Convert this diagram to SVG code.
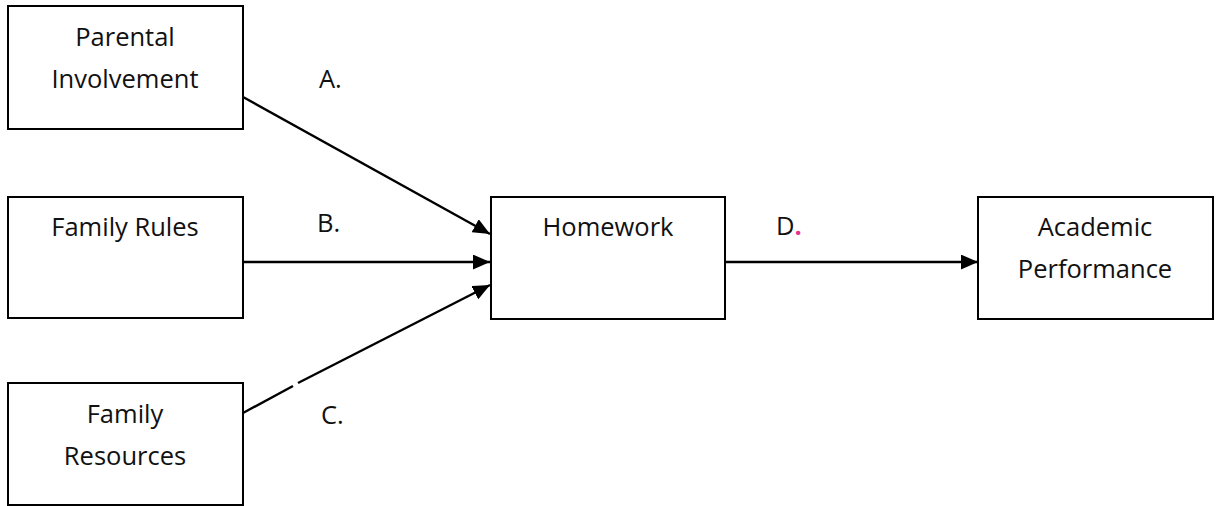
<svg xmlns="http://www.w3.org/2000/svg" width="1219" height="506" viewBox="0 0 1219 506">
  <style>
    .box { fill: #ffffff; stroke: #000000; stroke-width: 2; }
    .lbl { font-family: "Open Sans", "Liberation Sans", sans-serif; font-size: 25.5px; fill: #111111; text-anchor: middle; }
    .tag { font-family: "Open Sans", "Liberation Sans", sans-serif; font-size: 25.5px; fill: #111111; }
    .edge { stroke: #000000; stroke-width: 2.4; fill: none; }
  </style>
  <defs>
    <marker id="head" viewBox="0 0 16 14" refX="16" refY="7" markerWidth="17" markerHeight="15" markerUnits="userSpaceOnUse" orient="auto">
      <path d="M0,0 L16,7 L0,14 Z" fill="#000000"/>
    </marker>
  </defs>

  <g id="connectors">
    <line class="edge" x1="243" y1="97" x2="490" y2="234" marker-end="url(#head)"/>
    <line class="edge" x1="243" y1="262" x2="490" y2="262" marker-end="url(#head)"/>
    <!-- lower link drawn in two pieces with a short break -->
    <line class="edge" x1="243" y1="413" x2="293" y2="386"/>
    <line class="edge" x1="298" y1="383" x2="490" y2="285" marker-end="url(#head)"/>
    <line class="edge" x1="725" y1="262" x2="978" y2="262" marker-end="url(#head)"/>
  </g>

  <g id="node-parental">
    <rect class="box" x="8" y="6" width="235" height="123"/>
    <text class="lbl" x="125" y="46">Parental</text>
    <text class="lbl" x="125" y="88">Involvement</text>
  </g>

  <g id="node-rules">
    <rect class="box" x="8" y="197" width="235" height="121"/>
    <text class="lbl" x="125" y="236">Family Rules</text>
  </g>

  <g id="node-resources">
    <rect class="box" x="8" y="383" width="235" height="122"/>
    <text class="lbl" x="125" y="423">Family</text>
    <text class="lbl" x="125" y="465">Resources</text>
  </g>

  <g id="node-homework">
    <rect class="box" x="491" y="197" width="234" height="122"/>
    <text class="lbl" x="608" y="236">Homework</text>
  </g>

  <g id="node-performance">
    <rect class="box" x="978" y="197" width="235" height="122"/>
    <text class="lbl" x="1095" y="236">Academic</text>
    <text class="lbl" x="1095" y="278">Performance</text>
  </g>

  <g id="path-labels">
    <text class="tag" x="319" y="88">A.</text>
    <text class="tag" x="317" y="232">B.</text>
    <text class="tag" x="321" y="424">C.</text>
    <text class="tag" x="776" y="235">D<tspan fill="#e8308c" font-weight="bold">.</tspan></text>
  </g>
</svg>
